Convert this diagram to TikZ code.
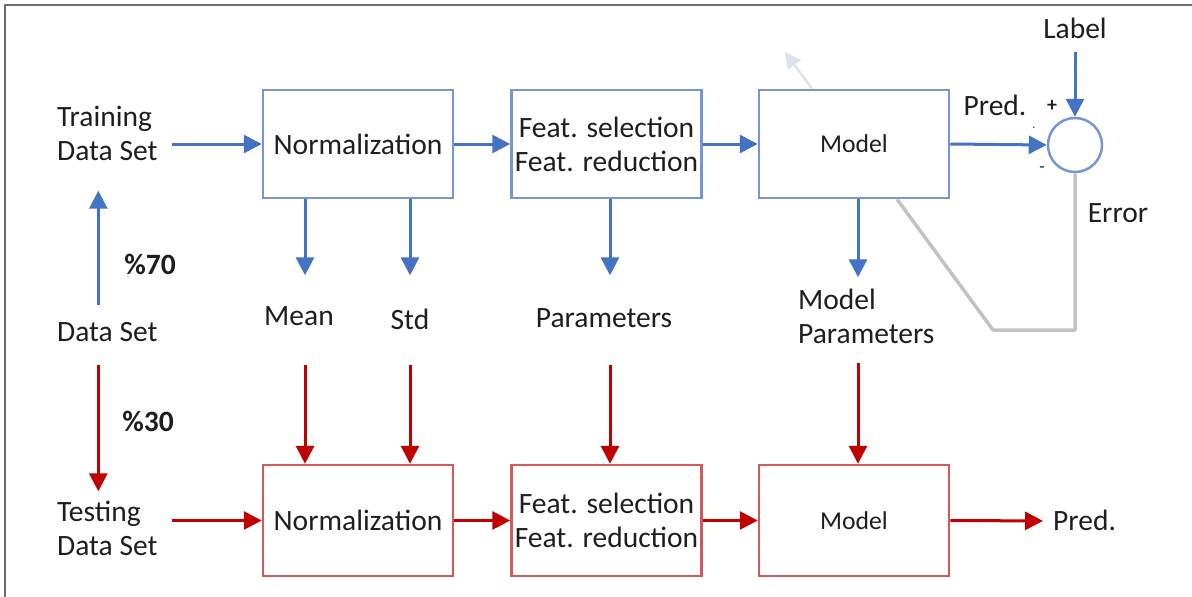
\documentclass[tikz,border=0pt]{standalone}
\usepackage{fontspec}
\setmainfont{Carlito}
\usetikzlibrary{arrows.meta,calc}
\definecolor{txt}{HTML}{1E1E1E}
\definecolor{barr}{HTML}{4472C4}
\definecolor{bbox}{HTML}{7596D2}
\definecolor{rarr}{HTML}{C00000}
\definecolor{rbox}{HTML}{D35A5A}
\definecolor{fback}{HTML}{C2C2C2}
\definecolor{ghost}{HTML}{DDE3EC}
\definecolor{frame}{HTML}{6E6E6E}
\tikzset{
  lbl/.style={inner sep=0pt, text height=19pt, text depth=0pt, text=txt,
    font=\fontsize{29.5}{34}\selectfont},
  blbl/.style={lbl, font=\fontsize{29.5}{34}\selectfont\bfseries},
  stage/.style={draw, line width=2.5pt, minimum width=190pt, inner sep=0pt,
    align=center, text=txt, font=\fontsize{29.5}{34}\selectfont},
  trainbox/.style={stage, draw=bbox, minimum height=108pt},
  testbox/.style={stage, draw=rbox, minimum height=111pt},
  small/.style={font=\fontsize{25.7}{30}\selectfont},
  barrow/.style={draw=barr, line width=3pt, -{Triangle[length=18pt,width=18pt]}, color=barr},
  rarrow/.style={draw=rarr, line width=3pt, -{Triangle[length=18pt,width=18pt]}, color=rarr},
}
\begin{document}
\begin{tikzpicture}[x=1pt,y=-1pt]
\useasboundingbox (0,0) rectangle (1192,597);
% outer frame (top and left edges)
\draw[frame, line width=2pt] (5,597) -- (5,5) -- (1192,5);

% data set labels
\node[lbl, anchor=west, align=left] (train) at (57,151) {Training\\Data Set};
\node[lbl, anchor=west] (ds) at (57,332) {Data Set};
\node[lbl, anchor=west, align=left] (test) at (57,546) {Testing\\Data Set};
\node[blbl] (p70) at (150,265) {\%70};
\node[blbl] (p30) at (148,422) {\%30};

% training chain
\node[trainbox] (norm1) at (358,144) {Normalization};
\node[trainbox] (feat1) at (606.5,144) {Feat. selection\\Feat. reduction};
\node[trainbox, small] (model1) at (854,144) {Model};
\node[draw=bbox, line width=2.5pt, circle, minimum size=54pt, inner sep=0pt] (sum) at (1075,145) {};

% testing chain
\node[testbox] (norm2) at (358,520.5) {Normalization};
\node[testbox] (feat2) at (606.5,520.5) {Feat. selection\\Feat. reduction};
\node[testbox, small] (model2) at (854,520.5) {Model};

% intermediate quantities
\node[lbl] (mean) at (299,316) {Mean};
\node[lbl] (std) at (410,320) {Std};
\node[lbl] (params) at (604,318) {Parameters};
\node[lbl, anchor=west, align=left] (mparams) at (798,334) {Model\\Parameters};

% comparison labels
\node[lbl] (label) at (1075,29) {Label};
\node[lbl] (pred1) at (995,106) {Pred.};
\node[inner sep=0pt, text=txt, font=\fontsize{20}{20}\selectfont\bfseries] (plus) at (1052,106) {+};
\node[inner sep=0pt, text=txt, font=\fontsize{18}{18}\selectfont] (minus) at (1042,170) {-};
\node[inner sep=0pt, text=txt, font=\fontsize{12}{12}\selectfont] (dot) at (1034,128) {.};
\node[lbl] (err) at (1118,213) {Error};
\node[lbl, anchor=west] (pred2) at (1053,521) {Pred.};

% data split
\draw[barrow, shorten <=17pt, shorten >=30pt] ([xshift=-9pt]ds.north) -- ([xshift=-9pt]ds.north |- train.south);
\draw[rarrow, shorten <=23pt, shorten >=45pt] ([xshift=-9pt]ds.south) -- ([xshift=-9pt]ds.south |- test.north);

% training flow
\draw[barrow, shorten <=14pt] (train.east |- norm1.west) -- (norm1.west);
\draw[barrow] (norm1.east) -- (feat1.west);
\draw[barrow] (feat1.east) -- (model1.west);
\draw[barrow] (model1.east) -- (sum.west);
\draw[barrow, shorten <=13pt] (label.south) -- (sum.north);

% outputs of the training stages
\draw[barrow, shorten >=31pt] ([xshift=-53pt]norm1.south) -- ([xshift=-53pt]norm1.south |- mean.north);
\draw[barrow, shorten >=35pt] ([xshift=52pt]norm1.south) -- ([xshift=52pt]norm1.south |- std.north);
\draw[barrow, shorten >=33pt] ([xshift=3.5pt]feat1.south) -- ([xshift=3.5pt]feat1.south |- params.north);
\draw[barrow, shorten >=47pt] ([xshift=4pt]model1.south) -- ([xshift=4pt]model1.south |- mparams.north);

% transferred to the testing stages
\draw[rarrow, shorten <=39pt] ([xshift=-53pt]norm2.north |- mean.south) -- ([xshift=-53pt]norm2.north);
\draw[rarrow, shorten <=35pt] ([xshift=52pt]norm2.north |- std.south) -- ([xshift=52pt]norm2.north);
\draw[rarrow, shorten <=37pt] ([xshift=3.5pt]feat2.north |- params.south) -- ([xshift=3.5pt]feat2.north);
\draw[rarrow, shorten <=19pt] ([xshift=4pt]model2.north |- mparams.south) -- ([xshift=4pt]model2.north);

% testing flow
\draw[rarrow, shorten <=14pt] (test.east |- norm2.west) -- (norm2.west);
\draw[rarrow] (norm2.east) -- (feat2.west);
\draw[rarrow] (feat2.east) -- (model2.west);
\draw[rarrow, shorten >=10pt] (model2.east) -- (pred2.west);

% error feedback
\coordinate (fbk) at (993,330);
\draw[fback, line width=3.5pt, line join=round] (sum.south) |- (fbk) -- ([xshift=43pt]model1.south);
\coordinate (upd) at (785,52);
\draw[ghost, line width=2.5pt, -{Triangle[length=16pt,width=16pt]}] ([xshift=-42pt]model1.north) -- (upd);
\end{tikzpicture}
\end{document}
